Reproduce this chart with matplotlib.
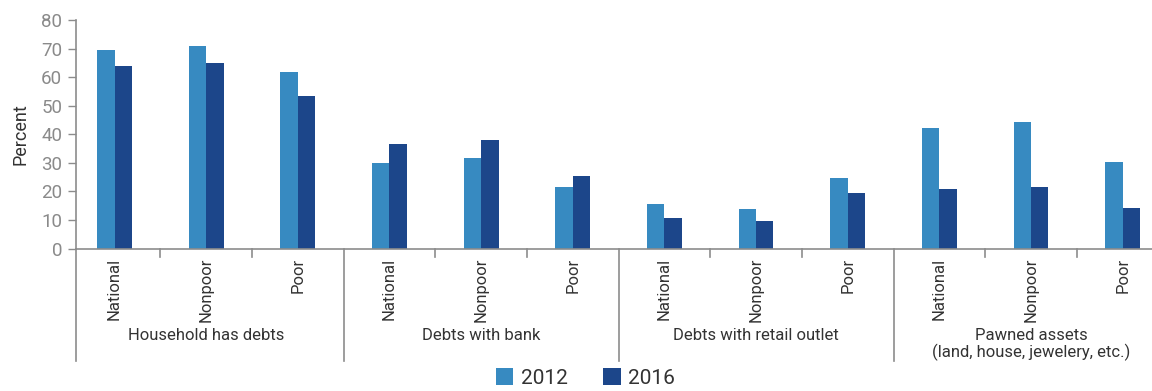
import numpy as np
import matplotlib
matplotlib.use("Agg")
import matplotlib.pyplot as plt
from matplotlib.patches import Patch

plt.rcParams['font.family'] = ['Liberation Sans Narrow', 'Roboto', 'DejaVu Sans']

groups = ['Household has debts', 'Debts with bank', 'Debts with retail outlet',
          'Pawned assets\n(land, house, jewelery, etc.)']
subgroups = ['National', 'Nonpoor', 'Poor']
vals_2012 = [69.5, 70.9, 61.8, 30.0, 31.7, 21.6, 15.6, 13.9, 24.7, 42.2, 44.3, 30.3]
vals_2016 = [63.9, 65.0, 53.4, 36.6, 38.0, 25.4, 10.7, 9.7, 19.5, 20.9, 21.6, 14.2]

c2012 = '#378ac1'
c2016 = '#1c468a'
axis_grey = '#8c8c8c'
tick_grey = '#8a8a8a'
text_dark = '#333333'

fig = plt.figure(figsize=(11.52, 3.91), dpi=100)
ax = fig.add_axes([0.066, 0.364, 0.934, 0.585])

x = np.arange(len(vals_2012))
w = 0.19
ax.bar(x - w / 2, vals_2012, w, color=c2012, label='2012')
ax.bar(x + w / 2, vals_2016, w, color=c2016, label='2016')

ax.set_xlim(-0.42, 11.32)
ax.set_ylim(0, 80)
ax.set_yticks(range(0, 81, 10))
ax.tick_params(axis='y', colors=axis_grey, length=6, width=1, labelsize=13.5,
               labelcolor=tick_grey, pad=4)
ax.set_ylabel('Percent', fontsize=13, color=text_dark, labelpad=8)

for s in ['top', 'right']:
    ax.spines[s].set_visible(False)
for s in ['left', 'bottom']:
    ax.spines[s].set_color(axis_grey)
    ax.spines[s].set_linewidth(1.2)

ax.set_xticks([])
trans = ax.get_xaxis_transform()
labels = subgroups * len(groups)
for i, lab in enumerate(labels):
    ax.text(x[i], -0.04, lab, rotation=90, ha='center', va='top',
            transform=trans, fontsize=12, color=text_dark)

# minor boundaries inside groups
for g in range(len(groups)):
    for k in (0.5, 1.5):
        xb = g * 3 + k
        ax.plot([xb, xb], [0, -0.035], transform=trans, color=axis_grey,
                lw=1.2, clip_on=False)
# group separators
for xb in [-0.42, 2.5, 5.5, 8.5]:
    ax.plot([xb, xb], [0, -0.49], transform=trans, color=axis_grey,
            lw=1.2, clip_on=False)

for g, name in enumerate(groups):
    yy = -0.38 if '\n' not in name else -0.42
    ax.text(g * 3 + 1, yy, name, ha='center', va='center', transform=trans,
            fontsize=12, color=text_dark, linespacing=1.05)

handles = [Patch(facecolor=c2012, label='2012'), Patch(facecolor=c2016, label='2016')]
fig.legend(handles=handles, loc='lower center', bbox_to_anchor=(0.508, -0.04),
           ncol=2, frameon=False, fontsize=15, handlelength=0.85, handleheight=0.85,
           columnspacing=1.7, handletextpad=0.35, labelcolor=text_dark)

fig.savefig('out.png', dpi=100)
